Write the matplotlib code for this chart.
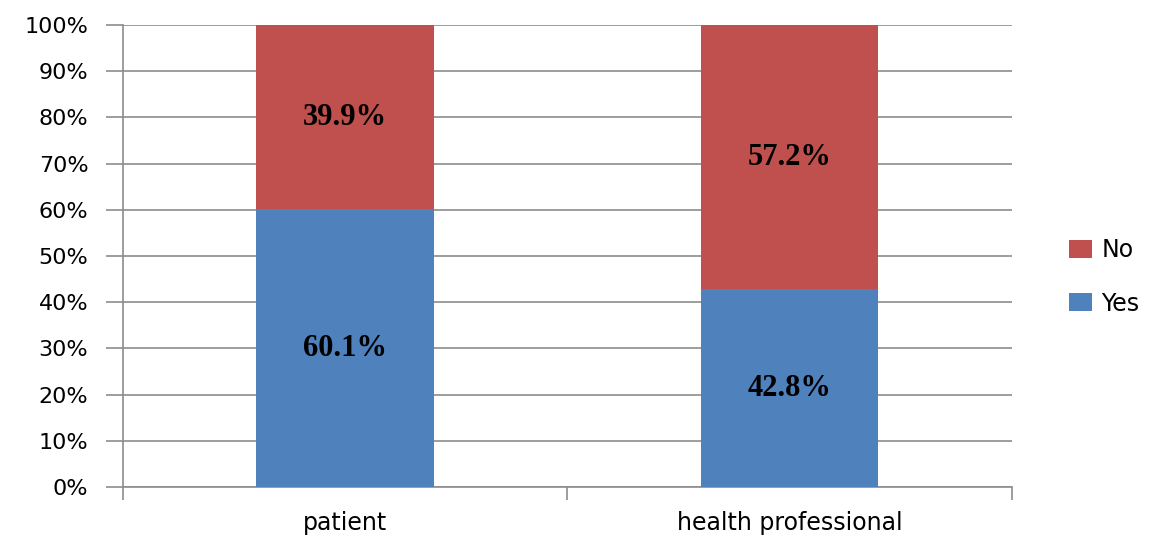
import numpy as np
import matplotlib.pyplot as plt
from matplotlib.ticker import FuncFormatter

# Respuestas por grupo (porcentaje)
groups = ['patient', 'health professional']
yes_pct = [60.1, 42.8]
no_pct = [39.9, 57.2]
yticks = np.arange(0, 101, 10)

grid_color = '#8c8c8c'
blue = '#4F81BD'
red = '#C0504D'

fig = plt.figure(figsize=(11.51, 5.37), dpi=100)
ax = fig.add_axes([0.1069, 0.0931, 0.879 - 0.1069, 0.9534 - 0.0931])

x = np.arange(len(groups))
bar_yes = ax.bar(x, yes_pct, width=0.4, color=blue, label='Yes', zorder=3)
bar_no = ax.bar(x, no_pct, width=0.4, bottom=yes_pct, color=red, label='No', zorder=3)

# Etiquetas centradas en cada segmento
label_font = dict(fontsize=22, fontweight='bold', family=['Liberation Serif', 'DejaVu Serif'])
for xi, y, n in zip(x, yes_pct, no_pct):
    ax.text(xi, y / 2, f'{y:.1f}%', ha='center', va='center', zorder=4, **label_font)
    ax.text(xi, y + n / 2, f'{n:.1f}%', ha='center', va='center', zorder=4, **label_font)

ax.set_xlim(-0.5, 1.5)
ax.set_ylim(0, 100)
ax.set_yticks(yticks)
ax.yaxis.set_major_formatter(FuncFormatter(lambda v, _: f'{v:.0f}%'))
ax.grid(axis='y', color=grid_color, linewidth=1.2, zorder=0)

ax.set_xticks([-0.5, 0.5, 1.5], minor=False)
ax.set_xticklabels([])
ax.set_xticks(x, minor=True)
ax.set_xticklabels(groups, minor=True, fontsize=17)
ax.tick_params(axis='x', which='minor', length=0, pad=17)
ax.tick_params(axis='x', which='major', length=9, color=grid_color, width=1.2)
ax.tick_params(axis='y', length=12, color=grid_color, width=1.2, labelsize=16, pad=13)

for side in ['top', 'right']:
    ax.spines[side].set_visible(False)
for side in ['left', 'bottom']:
    ax.spines[side].set_color(grid_color)
    ax.spines[side].set_linewidth(1.2)

handles = [bar_no, bar_yes]
ax.legend(handles, ['No', 'Yes'], loc='center left', bbox_to_anchor=(1.04, 0.455),
          frameon=False, fontsize=17, handlelength=1.0, handleheight=0.8,
          labelspacing=1.25, handletextpad=0.4)

plt.savefig('out.png', dpi=100)
